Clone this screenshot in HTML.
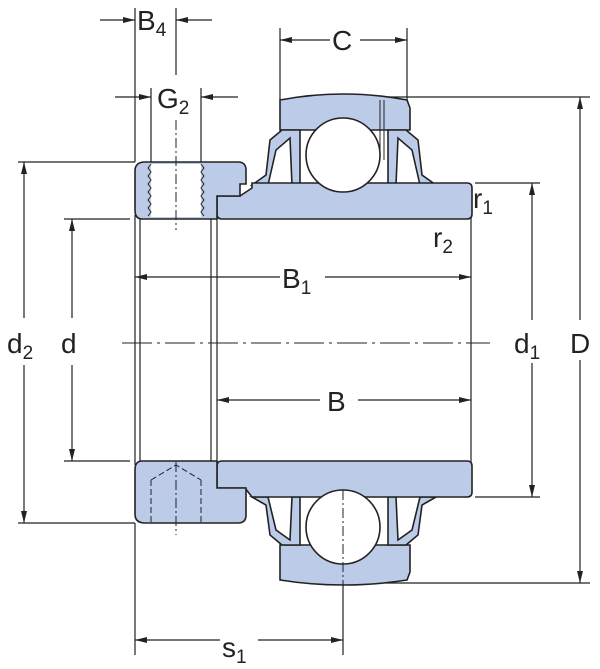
<!DOCTYPE html>
<html><head><style>body{margin:0;background:#fff}svg{display:block}text{font-family:"Liberation Sans",sans-serif;fill:#222}</style></head>
<body>
<svg width="600" height="669" viewBox="0 0 600 669" xmlns="http://www.w3.org/2000/svg">
<defs>
<marker id="a" markerWidth="12" markerHeight="6" refX="12" refY="3" orient="auto" markerUnits="userSpaceOnUse"><path d="M0,0 L12,3 L0,6z" fill="#222"/></marker>
</defs>
<g stroke="#222" stroke-width="1.2" fill="none">
<line x1="135" y1="8" x2="135" y2="162"/><line x1="176" y1="8" x2="176" y2="75"/>
<line x1="151" y1="88" x2="151" y2="162"/><line x1="201" y1="88" x2="201" y2="162"/>
<line x1="280" y1="28" x2="280" y2="100"/><line x1="407" y1="28" x2="407" y2="100"/>
<line x1="367" y1="97" x2="590" y2="97"/><line x1="367" y1="583" x2="590" y2="583"/>
<line x1="475" y1="183" x2="540" y2="183"/><line x1="475" y1="497" x2="540" y2="497"/>
<line x1="18" y1="162" x2="135" y2="162"/><line x1="18" y1="523" x2="135" y2="523"/>
<line x1="64" y1="219" x2="130" y2="219"/><line x1="64" y1="461" x2="130" y2="461"/>
<line x1="135" y1="523" x2="135" y2="655"/><line x1="343" y1="583" x2="343" y2="655"/>
<line x1="100" y1="20" x2="135" y2="20" marker-end="url(#a)"/><line x1="212" y1="20" x2="176" y2="20" marker-end="url(#a)"/>
<line x1="115" y1="97" x2="151" y2="97" marker-end="url(#a)"/><line x1="238" y1="97" x2="201" y2="97" marker-end="url(#a)"/>
<line x1="330" y1="40" x2="280" y2="40" marker-end="url(#a)"/><line x1="360" y1="40" x2="407" y2="40" marker-end="url(#a)"/>
<line x1="580" y1="320" x2="580" y2="97" marker-end="url(#a)"/><line x1="580" y1="360" x2="580" y2="583" marker-end="url(#a)"/>
<line x1="532" y1="320" x2="532" y2="183" marker-end="url(#a)"/><line x1="532" y1="363" x2="532" y2="497" marker-end="url(#a)"/>
<line x1="24" y1="318" x2="24" y2="162" marker-end="url(#a)"/><line x1="24" y1="365" x2="24" y2="523" marker-end="url(#a)"/>
<line x1="72" y1="318" x2="72" y2="219" marker-end="url(#a)"/><line x1="72" y1="365" x2="72" y2="461" marker-end="url(#a)"/>
<line x1="280" y1="277" x2="135" y2="277" marker-end="url(#a)"/><line x1="325" y1="277" x2="471" y2="277" marker-end="url(#a)"/>
<line x1="320" y1="400" x2="217" y2="400" marker-end="url(#a)"/><line x1="358" y1="400" x2="471" y2="400" marker-end="url(#a)"/>
<line x1="220" y1="640" x2="135" y2="640" marker-end="url(#a)"/><line x1="258" y1="640" x2="343" y2="640" marker-end="url(#a)"/>
<line x1="135" y1="215" x2="135" y2="465"/><line x1="140" y1="215" x2="140" y2="465"/>
<line x1="211" y1="215" x2="211" y2="465"/><line x1="217" y1="215" x2="217" y2="465"/>
<line x1="471" y1="215" x2="471" y2="465"/>
<line x1="122" y1="343" x2="490" y2="343" stroke-dasharray="30,5,3,5" stroke-width="1"/>
</g>
<g stroke="#222" stroke-width="1.6" fill="#bccbe8">
<path d="M280,100 Q343,88 407,100 L410,108 L410,130 L280,130 L280,106z"/>
<path d="M280,580 Q343,590 407,580 L410,572 L410,545 L280,545 L280,574z"/>
<path d="M282,130 L270,140 L266,175 L252,185 L268,185 L276,150 L290,138 L292,185 L300,185 L300,130z"/>
<path d="M406,130 L418,140 L422,175 L436,185 L420,185 L412,150 L398,138 L396,185 L388,185 L388,130z"/>
<path d="M282,545 L270,535 L266,505 L252,497 L268,497 L276,530 L290,540 L292,497 L300,497 L300,545z"/>
<path d="M406,545 L418,535 L422,505 L436,497 L420,497 L412,530 L398,540 L396,497 L388,497 L388,545z"/>
<path d="M252,183 L467,183 Q472,183 472,188 L472,214 Q472,219 467,219 L222,219 Q217,219 217,214 L217,196 L240,196 L252,188z"/>
<path d="M222,461 L467,461 Q472,461 472,466 L472,492 Q472,497 467,497 L252,497 L245,488 L217,488 L217,466 Q217,461 222,461z"/>
<path d="M145,162 L238,162 Q246,162 246,170 L246,184 L240,184 L240,196 L217,196 L217,219 L142,219 Q135,219 135,210 L135,171 Q135,162 145,162z"/>
<path d="M142,461 L217,461 L217,488 L246,488 L246,515 Q246,523 238,523 L145,523 Q135,523 135,514 L135,470 Q135,461 142,461z"/>
<circle cx="343" cy="155" r="37" fill="#fff"/>
<circle cx="343" cy="527" r="37" fill="#fff"/>
</g>
<g stroke="#222" stroke-width="1" fill="none">
<rect x="151" y="164" width="50" height="53" fill="#fff" stroke="none"/>
<path d="M151,164 l-3,4 l3,4 l-3,4 l3,4 l-3,4 l3,4 l-3,4 l3,4 l-3,4 l3,4 l-3,4 l3,4 l-3,4 M201,164 l3,4 l-3,4 l3,4 l-3,4 l3,4 l-3,4 l3,4 l-3,4 l3,4 l-3,4 l3,4 l-3,4 l3,4"/>
<line x1="176" y1="120" x2="176" y2="230" stroke-dasharray="10,3,2,3"/>
<path d="M151,480 L176,465 L201,480 M151,480 L151,523 M201,480 L201,523" stroke-dasharray="6,3"/>
<line x1="176" y1="462" x2="176" y2="535" stroke-dasharray="10,3,2,3"/>
<line x1="343" y1="490" x2="343" y2="600" stroke-dasharray="10,3,2,3"/>
<line x1="380" y1="100" x2="380" y2="160"/><line x1="384" y1="100" x2="384" y2="160"/>
</g>
<g font-size="28">
<text x="137" y="30">B<tspan font-size="19" dy="6">4</tspan></text>
<text x="157" y="108">G<tspan font-size="19" dy="6">2</tspan></text>
<text x="332" y="50">C</text>
<text x="7" y="353">d<tspan font-size="19" dy="6">2</tspan></text>
<text x="61" y="353">d</text>
<text x="514" y="353">d<tspan font-size="19" dy="6">1</tspan></text>
<text x="570" y="353">D</text>
<text x="282" y="288">B<tspan font-size="19" dy="6">1</tspan></text>
<text x="327" y="411">B</text>
<text x="222" y="657">s<tspan font-size="19" dy="6">1</tspan></text>
<text x="473" y="208">r<tspan font-size="19" dy="6">1</tspan></text>
<text x="433" y="247">r<tspan font-size="19" dy="6">2</tspan></text>
</g>
</svg>
</body></html>
